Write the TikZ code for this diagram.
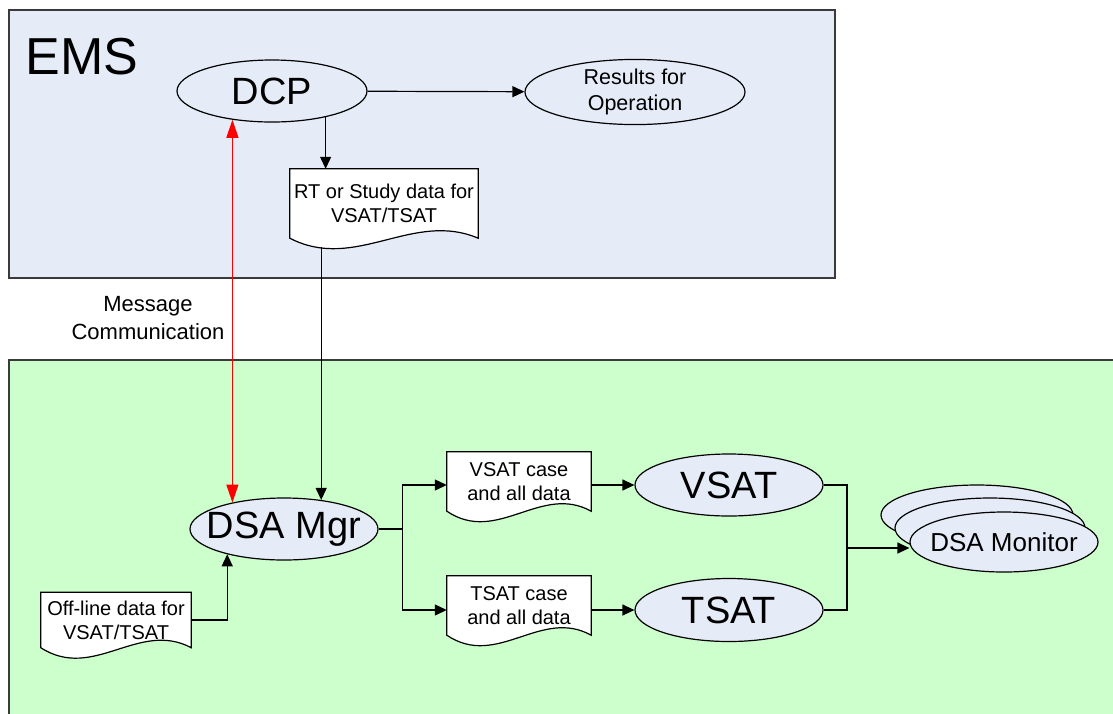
\documentclass[tikz,border=0pt]{standalone}
\usepackage{fontspec}
\setmainfont{Liberation Sans}
\usetikzlibrary{arrows.meta,positioning,calc,shapes.geometric,backgrounds}
\definecolor{dsaBlue}{HTML}{E6ECF7}
\definecolor{dsaGreen}{HTML}{CCFFCC}
\definecolor{dsaFrame}{HTML}{3A3A3A}
\definecolor{dsaRed}{HTML}{FF0000}
\pgfdeclarelayer{panel}
\pgfsetlayers{panel,background,main}
\tikzset{
  dsaLine/.style={line width=1.2pt,draw=black},
  dsaArrow/.style={dsaLine,-{Triangle[length=12pt,width=11pt]}},
  dsaMsg/.style={line width=1.2pt,draw=dsaRed,
    {Triangle[length=18pt,width=12pt]}-{Triangle[length=18pt,width=12pt]}},
  dsaProc/.style={ellipse,draw=black,fill=dsaBlue,line width=1.2pt,
    inner xsep=-25pt,inner ysep=0pt,minimum width=188pt,minimum height=62pt,
    font=\fontsize{38}{44}\selectfont},
  dsaDoc/.style={rectangle,inner sep=0pt,align=center,
    font=\fontsize{20}{24}\selectfont},
  dsaDocLine/.style={draw=black,fill=white,line width=1.2pt},
  dsaPanel/.style={draw=dsaFrame,line width=2pt},
  dsaText/.style={font=\fontsize{22}{28.5}\selectfont,align=center}
}
% wavy "document" outline behind a dsaDoc node
\newcommand\docOutline[1]{%
  \begin{pgfonlayer}{background}
  \draw[dsaDocLine] let \p1=(#1.south west), \p2=(#1.north east),
    \n1={\x2-\x1} in
    (\x1,\y2) -- (\x2,\y2) -- (\x2,\y1)
    .. controls ({\x2-0.35*\n1},{\y1+28}) and ({\x1+0.35*\n1},{\y1-34}) .. (\x1,\y1)
    -- cycle;
  \end{pgfonlayer}}

\begin{document}
\begin{tikzpicture}[x=1pt,y=-1pt]
\path[use as bounding box] (0,0) rectangle (1113,713);
\clip (0,0) rectangle (1113,713);
\begin{pgfonlayer}{panel}
\draw[dsaPanel,fill=dsaBlue] (9,10) rectangle (835,278);
\draw[dsaPanel,fill=dsaGreen] (9,360) rectangle (1130,730);
\end{pgfonlayer}
% EMS side
\node[font=\fontsize{52}{58}\selectfont] (ems) at (82,57) {EMS};
\node[dsaProc,minimum width=190pt] (dcp) at (272,91) {DCP};
\node[dsaProc,font=\fontsize{21.5}{26}\selectfont,align=center,
  minimum width=220pt,minimum height=64pt] (res) at (635,92) {Results for\\Operation};
\node[dsaDoc,minimum width=188pt,minimum height=69pt] (rtdoc) at (384,203.5)
  {RT or Study data for\\VSAT/TSAT};
\docOutline{rtdoc}
\node[dsaText] (msg) at (148,318) {Message\\Communication};
% DSA side
\node[dsaProc] (mgr) at (284,529) {DSA Mgr};
\node[dsaDoc,minimum width=150pt,minimum height=55pt] (offdoc) at (116,620)
  {Off-line data for\\VSAT/TSAT};
\docOutline{offdoc}
\node[dsaDoc,minimum width=144pt,minimum height=59pt] (vdoc) at (519,481.5)
  {VSAT case\\and all data};
\docOutline{vdoc}
\node[dsaDoc,minimum width=144pt,minimum height=59pt] (tdoc) at (519,605.5)
  {TSAT case\\and all data};
\docOutline{tdoc}
\node[dsaProc] (vsat) at (729,485) {VSAT};
\node[dsaProc,minimum height=63pt] (tsat) at (729,610) {TSAT};
\node[dsaProc,minimum width=192pt,minimum height=60pt] (mon3) at (977,515) {};
\node[dsaProc,minimum width=190pt,minimum height=60pt] (mon2) at (990,528) {};
\node[dsaProc,minimum width=188pt,minimum height=60pt,
  font=\fontsize{26}{30}\selectfont] (mon) at (1004,542) {DSA Monitor};
% connectors
\draw[dsaArrow] (dcp) -- (res);
\draw[dsaArrow] (dcp.334) -- (dcp.334 |- rtdoc.north);
\draw[dsaArrow] ($(mgr.38 |- rtdoc.south)+(0,9)$) -- (mgr.38);
\draw[dsaMsg] (dcp.216) -- (dcp.216 |- mgr.153);
\draw[dsaArrow] (offdoc.east) -| (mgr.204);
\draw[dsaLine] (mgr.east) -- ++(24,0) coordinate (split);
\draw[dsaArrow] (split) |- (vsat.west -| vdoc.west);
\draw[dsaArrow] (split) |- (tsat.west -| tdoc.west);
\draw[dsaArrow] (vsat.west -| vdoc.east) -- (vsat);
\draw[dsaArrow] (tsat.west -| tdoc.east) -- (tsat);
\coordinate (join) at (847,548);
\draw[dsaLine] (vsat.east) -| (join) |- (tsat.east);
\draw[dsaArrow] (join) -- (join -| mon.west);
\end{tikzpicture}
\end{document}
